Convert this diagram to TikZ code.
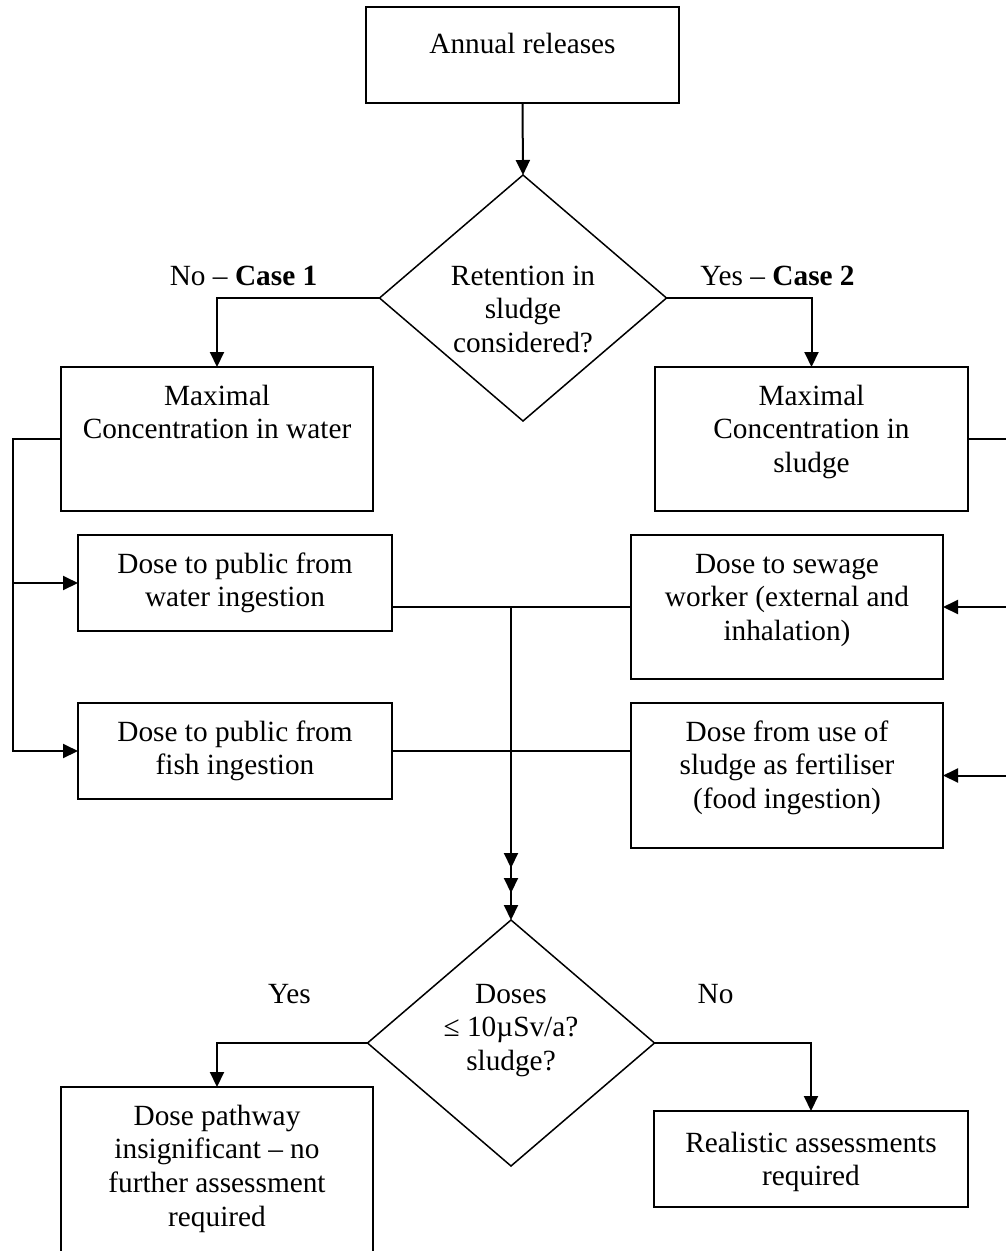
\documentclass[tikz,border=0pt]{standalone}
\usepackage{fontspec}
\setmainfont{Liberation Serif}
\usetikzlibrary{shapes.geometric,arrows.meta}
\newcommand\fsz{\fontsize{29.3}{33.7}\selectfont}
\newcommand\flowbox[7]{\node[boxst,minimum width=#4pt,minimum height=#5pt] (#1) at ({#2+#4/2},{#3+#5/2}) {\parbox[c][#5pt][t]{#4pt}{\centering\vspace*{\dimexpr#6pt-23.59pt\relax}\strut#7}};}
\newcommand\diatext[2]{\raisebox{#1pt}[0pt][0pt]{\makebox[0pt]{\parbox[t]{260pt}{\centering #2}}}}
\tikzset{
  boxst/.style={draw, line width=2pt, inner sep=0pt, outer sep=0pt, font=\fsz},
  dia/.style={draw, diamond, line width=1.5pt, inner sep=0pt, outer sep=0pt, minimum width=287pt, minimum height=246pt, font=\fsz},
  lbl/.style={anchor=base, inner sep=0pt, font=\fsz},
  arrowln/.style={line width=2pt, -{Triangle[length=15pt,width=14pt]}},
  plainln/.style={line width=2pt}
}
\begin{document}
\begin{tikzpicture}[x=1pt,y=-1pt]
\useasboundingbox (0,0) rectangle (1006,1251);
% boxes
\flowbox{rel}{366}{7}{313}{96}{46}{Annual releases}
\flowbox{mw}{61}{367}{312}{144}{38}{Maximal\\Concentration in water}
\flowbox{ms}{655}{367}{313}{144}{38}{Maximal\\Concentration in\\sludge}
\flowbox{pw}{78}{535}{314}{96}{38}{Dose to public from\\water ingestion}
\flowbox{pf}{78}{703}{314}{96}{38}{Dose to public from\\fish ingestion}
\flowbox{sw}{631}{535}{312}{144}{38}{Dose to sewage\\worker (external and\\inhalation)}
\flowbox{sf}{631}{703}{312}{145}{38}{Dose from use of\\sludge as fertiliser\\(food ingestion)}
\flowbox{dp}{61}{1087}{312}{169}{38}{Dose pathway\\insignificant – no\\further assessment\\required}
\flowbox{ra}{654}{1111}{314}{96}{41}{Realistic assessments\\required}
% diamonds
\node[dia] (d1) at (523,298) {\diatext{13}{Retention in\\sludge\\considered?}};
\node[dia] (d2) at (511,1043) {\diatext{40}{Doses\\≤ 10µSv/a?\\sludge?}};
% labels
\node[lbl] (l1) at (243.5,285) {No – \textbf{Case 1}};
\node[lbl] (l2) at (777.5,285) {Yes – \textbf{Case 2}};
\node[lbl] (l3) at (289.5,1003) {Yes};
\node[lbl] (l4) at (715.5,1003) {No};
% coordinates
\coordinate (lt) at (13,439);
\coordinate (lb) at (13,751);
\coordinate (rt) at (1014,439);
\coordinate (rb) at (1014,775.5);
\coordinate (j1) at (511,607);
\coordinate (j2) at (511,751);
\coordinate (a1) at (511,868);
\coordinate (a2) at (511,893);
% connectors
\draw[arrowln] (rel.south) -- (d1.north);
\draw[arrowln] (d1.west) -| (mw.north);
\draw[arrowln] (d1.east) -| (ms.north);
\draw[arrowln] (mw.west) -- (lt) -- (lb) -- (pf.west);
\draw[arrowln] (lt |- pw.west) -- (pw.west);
\draw[arrowln] (ms.east) -- (rt) -- (rb) -- (sf.east);
\draw[arrowln] (rt |- sw.east) -- (sw.east);
\draw[plainln] (sw.west) -- (sw.west -| pw.east);
\draw[plainln] (pf.east) -- (pf.east -| sf.west);
\draw[arrowln] (j1) -- (a1);
\draw[arrowln] (j2) -- (a2);
\draw[arrowln] (j2) -- (d2.north);
\draw[arrowln] (d2.west) -| (dp.north);
\draw[arrowln] (d2.east) -| (ra.north);
\end{tikzpicture}
\end{document}
